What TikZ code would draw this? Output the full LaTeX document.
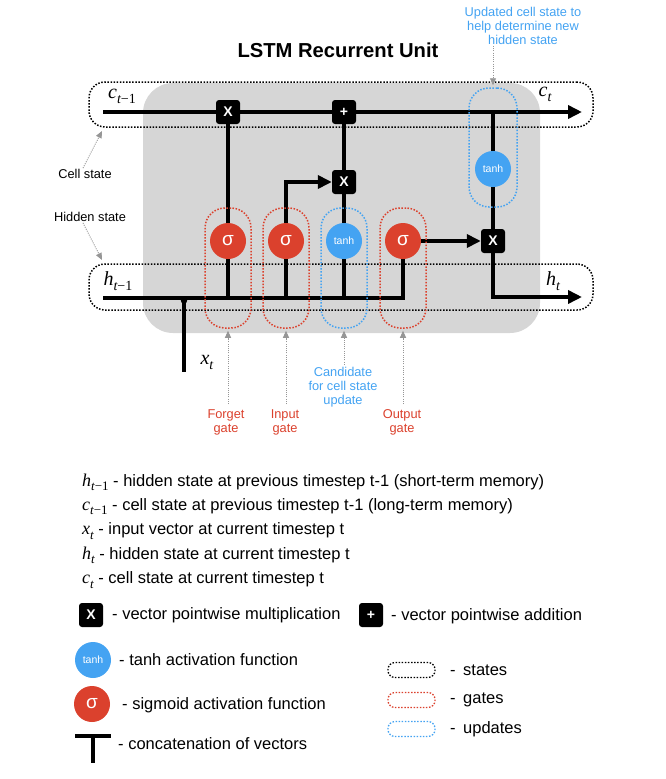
\documentclass[tikz,border=0pt]{standalone}
\usepackage[no-math]{fontspec}
\setmainfont{Liberation Sans}
\newfontfamily\tms{Liberation Serif}
\usetikzlibrary{arrows.meta}
\definecolor{sigred}{RGB}{219,65,45}
\definecolor{tanhblue}{RGB}{68,163,242}
\definecolor{bggrey}{RGB}{214,214,214}
\definecolor{ptgrey}{RGB}{150,150,150}
\newcommand{\dlab}[2]{{\fontsize{20}{20}\selectfont\tms\itshape #1}\raisebox{-5pt}{\fontsize{14}{14}\selectfont\tms #2}}
\newcommand{\llab}[2]{{\fontsize{18}{18}\selectfont\tms\itshape #1}\raisebox{-4.5pt}{\fontsize{13}{13}\selectfont\tms #2}}
\pgfdeclarelayer{bg}
\pgfdeclarelayer{wires}
\pgfsetlayers{bg,wires,main}
\tikzset{
  flow/.style={line width=3.5pt},
  arr/.style={line width=3.5pt, -{Triangle[length=14pt,width=13pt]}},
  opbox/.style={fill=black, rounded corners=3pt, minimum size=24pt, inner sep=0pt, text=white, font=\bfseries\fontsize{14}{14}\selectfont},
  sig/.style={circle, fill=sigred, minimum size=36pt, inner sep=0pt, text=white, font=\fontsize{19}{19}\selectfont},
  tnh/.style={circle, fill=tanhblue, minimum size=36pt, inner sep=0pt, text=white, font=\fontsize{10.5}{10.5}\selectfont},
  dotline/.style={line width=1.5pt, dash pattern=on 1.5pt off 1.6pt},
  statebox/.style={dotline, draw=black, rounded corners=16pt, inner sep=0pt},
  gatebox/.style={dotline, draw=sigred, rounded corners=20pt, inner sep=0pt, minimum width=46pt, minimum height=120pt},
  updbox/.style={dotline, draw=tanhblue, rounded corners=20pt, inner sep=0pt, minimum width=46pt, minimum height=120pt},
  lbl/.style={font=\fontsize{12.8}{14}\selectfont, align=center, inner sep=1pt},
  pointer/.style={draw=ptgrey, line width=0.9pt, dash pattern=on 1pt off 1.2pt, -{Triangle[length=7pt,width=6pt]}},
  mathlbl/.style={inner sep=0pt},
  legtext/.style={font=\fontsize{16.5}{20}\selectfont, inner sep=0pt},
  legpill/.style={dotline, line width=1.3pt, rounded corners=7pt, minimum width=47pt, minimum height=15pt, inner sep=0pt},
}
\begin{document}
\begin{tikzpicture}[x=1pt,y=-1pt]
\useasboundingbox (0,0) rectangle (665,779);

% background unit
\begin{pgfonlayer}{bg}
  \fill[bggrey, rounded corners=30pt] (143,83) rectangle (540,333);
\end{pgfonlayer}

% title
\node[font=\bfseries\fontsize{20.2}{24}\selectfont] (title) at (338,50) {LSTM Recurrent Unit};

% state boxes
\node[statebox, minimum width=504pt, minimum height=45pt] (cbox) at (341,104.5) {};
\node[statebox, minimum width=504pt, minimum height=46pt] (hbox) at (341,287) {};

% gate boxes
\node[gatebox] (fgb) at (228,268) {};
\node[gatebox] (igb) at (286,268) {};
\node[updbox]  (cgb) at (344,268) {};
\node[gatebox] (ogb) at (403,268) {};
\node[updbox, minimum width=48pt, minimum height=119pt] (ugb) at (493,147.5) {};

% operators
\node[opbox] (m1) at (228,112) {X};
\node[opbox] (a1) at (344,112) {+};
\node[opbox] (m2) at (344,182) {X};
\node[opbox] (m3) at (493,241) {X};

% activations
\node[sig] (sf) at (228,241) {σ};
\node[sig] (si) at (286,241) {σ};
\node[tnh] (tc) at (344,241) {tanh};
\node[sig] (so) at (403,241) {σ};
\node[tnh] (tt) at (493,169) {tanh};

% free ends
\coordinate (cin) at (103,112);
\coordinate (cout) at (582,112);
\coordinate (ctap) at (493,112);
\coordinate (hin) at (103,298);
\coordinate (hout) at (582,297);
\coordinate (cat) at (184,298);
\coordinate (xt) at (184,372);

% wires
\begin{pgfonlayer}{wires}
  \draw[arr] (cin) -- (cout);
  \draw[flow] (sf) -- (m1);
  \draw[flow] (sf) -- (sf |- hin);
  \draw[flow] (si) -- (si |- hin);
  \draw[arr] (si) |- (m2);
  \draw[flow] (tc) -- (tc |- hin);
  \draw[flow] (tc) -- (m2);
  \draw[flow] (m2) -- (a1);
  \draw[flow] (hin) -| (so);
  \draw[arr] (so) -- (m3);
  \draw[flow] (ctap) -- (tt);
  \draw[flow] (tt) -- (m3);
  \draw[arr] (m3) |- (hout);
  \draw[flow] (cat) -- (xt);
  \fill (184,300.5) circle (3.2pt);
\end{pgfonlayer}

% math labels
\node[mathlbl] (lc0) at (122,96) {\dlab{c}{{\itshape t}−1}};
\node[mathlbl] (lc1) at (545,94) {\dlab{c}{\itshape t}};
\node[mathlbl] (lh0) at (118,281) {\dlab{h}{{\itshape t}−1}};
\node[mathlbl] (lh1) at (553,281) {\dlab{h}{\itshape t}};
\node[mathlbl] (lx) at (207,362) {\dlab{x}{\itshape t}};

% side labels
\node[lbl] (cslbl) at (85,174) {Cell state};
\coordinate (cstip) at (102,131);
\draw[pointer] ([xshift=-2pt]cslbl.north) -- (cstip);
\node[lbl] (hslbl) at (90,217) {Hidden state};
\coordinate (hstip) at (102,260);
\draw[pointer] ([xshift=-7pt]hslbl.south) -- (hstip);

% top label
\node[lbl, text=tanhblue] (updlbl) at (523,26) {Updated cell state to\\help determine new\\hidden state};
\draw[pointer] (updlbl.south -| ugb) -- ([yshift=2pt]ugb.north);

% gate labels
\node[lbl, text=sigred] (fgl) at (226,422) {Forget\\gate};
\node[lbl, text=sigred] (igl) at (285,422) {Input\\gate};
\node[lbl, text=tanhblue] (cgl) at (343,387) {Candidate\\for cell state\\update};
\node[lbl, text=sigred] (ogl) at (402,422) {Output\\gate};
\draw[pointer, shorten <=4pt] (fgl.north -| fgb) -- ([yshift=-2pt]fgb.south);
\draw[pointer, shorten <=4pt] (igl.north -| igb) -- ([yshift=-2pt]igb.south);
\draw[pointer, shorten <=1pt] (cgl.north -| cgb) -- ([yshift=-2pt]cgb.south);
\draw[pointer, shorten <=4pt] (ogl.north -| ogb) -- ([yshift=-2pt]ogb.south);

% legend: symbols
\node[legtext, anchor=base west] (l1) at (82,486) {\llab{h}{{\itshape t}−1} - hidden state at previous timestep t-1 (short-term memory)};
\node[legtext, anchor=base west] (l2) at (82,510) {\llab{c}{{\itshape t}−1} - cell state at previous timestep t-1 (long-term memory)};
\node[legtext, anchor=base west] (l3) at (82,534.5) {\llab{x}{\itshape t} - input vector at current timestep t};
\node[legtext, anchor=base west] (l4) at (82,559) {\llab{h}{\itshape t} - hidden state at current timestep t};
\node[legtext, anchor=base west] (l5) at (82,583.5) {\llab{c}{\itshape t} - cell state at current timestep t};

\node[opbox] (lgx) at (91,615) {X};
\node[legtext, anchor=west] (lgxt) at (112,615) {- vector pointwise multiplication};
\node[opbox] (lga) at (371,615) {+};
\node[legtext, anchor=west] (lgat) at (391,616) {- vector pointwise addition};
\node[tnh] (lgt) at (93,660) {tanh};
\node[legtext, anchor=west] (lgtt) at (119,660) {- tanh activation function};
\node[sig] (lgs) at (92,704) {σ};
\node[legtext, anchor=west] (lgst) at (122,705) {- sigmoid activation function};
\draw[line width=4pt] (75,736) -- (111,736);
\draw[line width=4pt] (93,736) -- (93,763);
\node[legtext, anchor=west] (lgct) at (118,744) {- concatenation of vectors};

% legend: boxes
\node[legpill, draw=black] (pst) at (411.5,670) {};
\node[legtext, anchor=west] (pstt) at (450,670) {-\hspace{7.5pt}states};
\node[legpill, draw=sigred] (pgt) at (411.5,700) {};
\node[legtext, anchor=west] (pgtt) at (450,700) {-\hspace{7.5pt}gates};
\node[legpill, draw=tanhblue] (pup) at (411.5,729) {};
\node[legtext, anchor=west] (pupt) at (450,729) {-\hspace{7.5pt}updates};
\end{tikzpicture}
\end{document}
